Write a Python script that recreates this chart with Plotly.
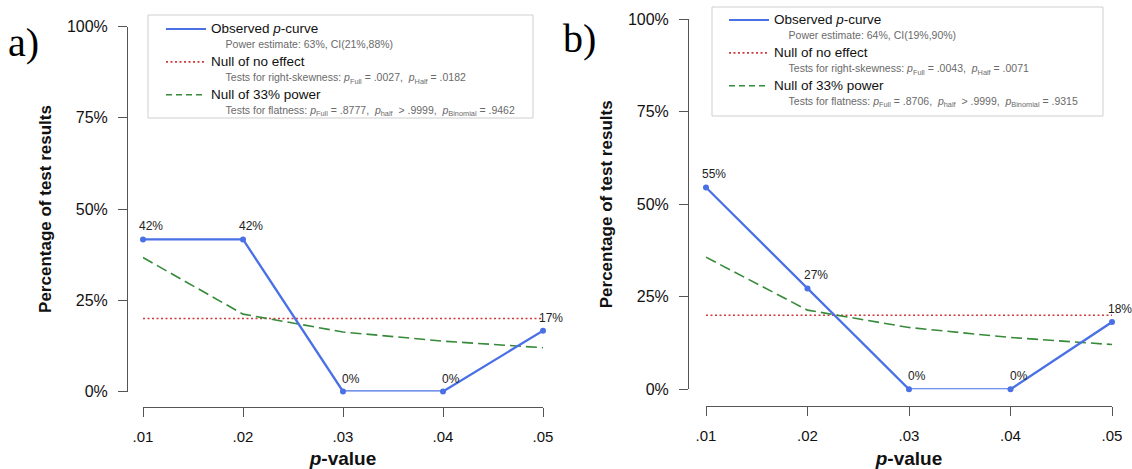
import plotly.graph_objects as go

W, H = 1132, 469
OFF = 0  # body margin is removed by post_script below

# ---------------- data ----------------
p_values = [0.01, 0.02, 0.03, 0.04, 0.05]
p_tick_labels = [".01", ".02", ".03", ".04", ".05"]
pct_ticks = [0, 0.25, 0.5, 0.75, 1.0]

observed_a = [0.4167, 0.4167, 0.0, 0.0, 0.1667]
null_a = [0.20, 0.20, 0.20, 0.20, 0.20]
power33_a = [0.367, 0.212, 0.163, 0.138, 0.120]

observed_b = [0.5455, 0.2727, 0.0, 0.0, 0.1818]
null_b = [0.20, 0.20, 0.20, 0.20, 0.20]
power33_b = [0.357, 0.214, 0.167, 0.140, 0.121]

power_text_a = "Power estimate: 63%, CI(21%,88%)"
power_text_b = "Power estimate: 64%, CI(19%,90%)"
skew_a = ("<i>p</i><sub>Full</sub> = .0027,", "<i>p</i><sub>Half</sub> = .0182")
skew_b = ("<i>p</i><sub>Full</sub> = .0043,", "<i>p</i><sub>Half</sub> = .0071")
flat_a = ("<i>p</i><sub>Full</sub> = .8777,", "<i>p</i><sub>half</sub>  > .9999,", "<i>p</i><sub>Binomial</sub> = .9462")
flat_b = ("<i>p</i><sub>Full</sub> = .8706,", "<i>p</i><sub>half</sub>  > .9999,", "<i>p</i><sub>Binomial</sub> = .9315")

# ---------------- style ----------------
FONT = "Liberation Sans, Arial, Helvetica, sans-serif"
BLUE = "#4A70E6"
RED = "#D03A3A"
GREEN = "#368A3A"
AXIS = "#555555"
SUB = "#6a6a6a"
NB = "\u00a0"
RED_DASH = "2px,2.5px"
GREEN_DASH = "11px,5px"


def px_x(px):
    return (px - OFF) / W


def px_y(py):
    return 1 - (py - OFF) / H


def entry(main, subtxt):
    return (f"<span style='font-size:13.5px'>{main}</span>"
            f"<br><span style='font-size:10.5px;color:{SUB}'>{NB*5}{subtxt}</span>")


fig = go.Figure()


def add_panel(idx, observed, null, power, power_text, skew, flat,
              xdom, ydom, xpos, ypos, legend_name, legend_xy, box):
    xa = "x" if idx == 1 else f"x{idx}"
    ya = "y" if idx == 1 else f"y{idx}"
    common = dict(xaxis=xa, yaxis=ya, legend=legend_name, cliponaxis=False)

    # data traces
    fig.add_trace(go.Scatter(
        x=p_values, y=null, mode="lines",
        line=dict(color=RED, width=1.6, dash=RED_DASH), showlegend=False, **common))
    fig.add_trace(go.Scatter(
        x=p_values, y=power, mode="lines",
        line=dict(color=GREEN, width=1.6, dash=GREEN_DASH), showlegend=False, **common))
    fig.add_trace(go.Scatter(
        x=p_values, y=observed, mode="lines+markers",
        line=dict(color=BLUE, width=2.3), marker=dict(color=BLUE, size=6),
        showlegend=False, **common))

    # legend entries (line-only keys)
    fig.add_trace(go.Scatter(
        x=[None], y=[None], mode="lines", line=dict(color=BLUE, width=2),
        name=entry("Observed <i>p</i>-curve", power_text), **common))
    fig.add_trace(go.Scatter(
        x=[None], y=[None], mode="lines", line=dict(color=RED, width=1.6, dash=RED_DASH),
        name=entry("Null of no effect", "Tests for right-skewness: " + f"{NB*2}".join(skew)),
        **common))
    fig.add_trace(go.Scatter(
        x=[None], y=[None], mode="lines", line=dict(color=GREEN, width=1.6, dash="6px,4px"),
        name=entry("Null of 33% power", "Tests for flatness: " + f"{NB*2}".join(flat)),
        **common))

    for xv, yv in zip(p_values, observed):
        fig.add_annotation(
            x=xv, y=yv, xref=xa, yref=ya, text=f"{yv:.0%}", showarrow=False,
            xanchor="center", yanchor="bottom", xshift=8, yshift=4,
            font=dict(size=12, color="#222222", family=FONT))

    # legend frame
    fig.add_shape(type="rect", xref="paper", yref="paper",
                  x0=px_x(box[0]), x1=px_x(box[2]), y0=px_y(box[3]), y1=px_y(box[1]),
                  line=dict(color="#cfcfcf", width=1), fillcolor="rgba(0,0,0,0)",
                  layer="above")

    axis_font = dict(family=FONT, color="#111111")
    fig.update_layout(**{
        ("xaxis" if idx == 1 else f"xaxis{idx}"): dict(
            domain=xdom, range=[p_values[0], p_values[-1]], anchor="free", position=ypos,
            tickvals=p_values, ticktext=p_tick_labels, ticks="outside", ticklen=9,
            ticklabelstandoff=7, automargin=False,
            tickcolor=AXIS, showline=True, linecolor=AXIS, linewidth=1,
            showgrid=False, zeroline=False, tickfont=dict(size=15, **axis_font),
            title=dict(text="<i>p</i>-value", standoff=8,
                       font=dict(size=19, weight="bold", **axis_font))),
        ("yaxis" if idx == 1 else f"yaxis{idx}"): dict(
            domain=ydom, range=[0, 1], anchor="free", position=xpos,
            tickvals=pct_ticks, tickformat=".0%", ticks="outside", ticklen=9,
            ticklabelstandoff=7, automargin=False,
            tickcolor=AXIS, showline=True, linecolor=AXIS, linewidth=1,
            showgrid=False, zeroline=False, tickfont=dict(size=16, **axis_font),
            title=dict(text="Percentage of test results", standoff=9,
                       font=dict(size=17, weight="bold", **axis_font))),
        legend_name: dict(
            x=legend_xy[0], y=legend_xy[1], xanchor="left", yanchor="top",
            xref="paper", yref="paper", bgcolor="rgba(255,255,255,0)",
            borderwidth=0, itemwidth=40, valign="top",
            tracegroupgap=0, traceorder="normal",
            font=dict(size=11.5, family=FONT, color="#111111")),
    })


add_panel(1, observed_a, null_a, power33_a, power_text_a, skew_a, flat_a,
          xdom=[px_x(143), px_x(543)], ydom=[px_y(391.5), px_y(26.5)],
          xpos=px_x(127), ypos=px_y(407), legend_name="legend",
          legend_xy=(px_x(161), px_y(15)), box=(148, 15, 533, 118))
add_panel(2, observed_b, null_b, power33_b, power_text_b, skew_b, flat_b,
          xdom=[px_x(706), px_x(1112)], ydom=[px_y(389.3), px_y(19.3)],
          xpos=px_x(688), ypos=px_y(406), legend_name="legend2",
          legend_xy=(px_x(724), px_y(6)), box=(712, 7, 1103, 116))

for label, (lx, ly) in (("a)", (px_x(6), px_y(43))), ("b)", (px_x(561), px_y(38)))):
    fig.add_annotation(x=lx, y=ly, xref="paper", yref="paper", text=label,
                       showarrow=False, xanchor="left", yanchor="middle",
                       font=dict(size=40, family="Liberation Serif, Times New Roman, serif",
                                 color="#000000"))

fig.update_layout(
    width=W, height=H, margin=dict(l=0, r=0, t=0, b=0, autoexpand=False),
    paper_bgcolor="white", plot_bgcolor="white", showlegend=True,
    font=dict(family=FONT),
)

fig.write_html(
    "out.html",
    config={"displayModeBar": False},
    post_script="document.body.style.margin='0';document.body.style.overflow='hidden';",
)
